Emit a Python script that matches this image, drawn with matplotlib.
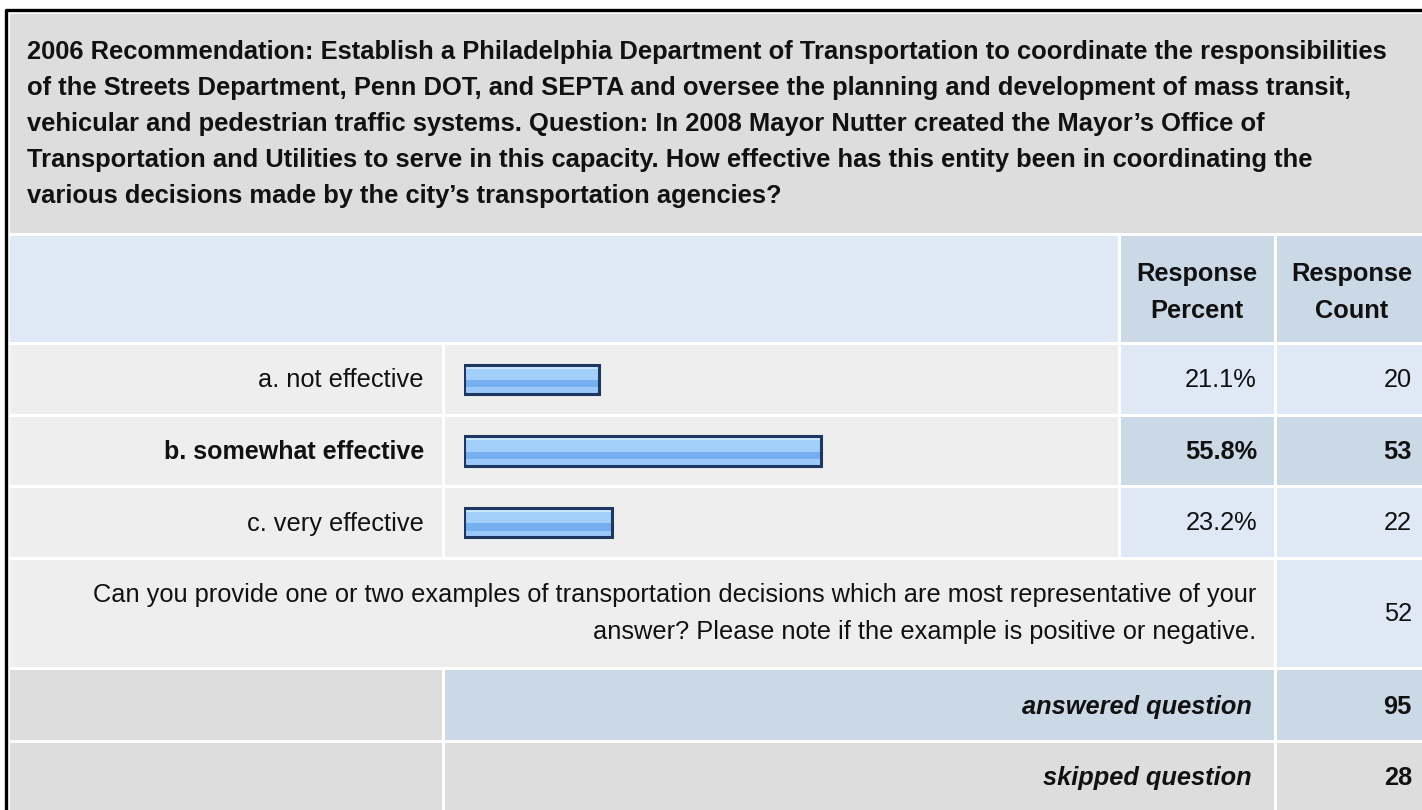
import matplotlib.pyplot as plt
from matplotlib.patches import Rectangle

plt.rcParams['font.family'] = ['Liberation Sans', 'DejaVu Sans']

title_lines = [
    "2006 Recommendation: Establish a Philadelphia Department of Transportation to coordinate the responsibilities",
    "of the Streets Department, Penn DOT, and SEPTA and oversee the planning and development of mass transit,",
    "vehicular and pedestrian traffic systems. Question: In 2008 Mayor Nutter created the Mayor\u2019s Office of",
    "Transportation and Utilities to serve in this capacity. How effective has this entity been in coordinating the",
    "various decisions made by the city\u2019s transportation agencies?",
]
header_percent = ["Response", "Percent"]
header_count = ["Response", "Count"]
choice_labels = ["a. not effective", "b. somewhat effective", "c. very effective"]
response_percent = [21.1, 55.8, 23.2]
response_count = [20, 53, 22]
top_choice = 1
comment_lines = [
    "Can you provide one or two examples of transportation decisions which are most representative of your",
    "answer? Please note if the example is positive or negative.",
]
comment_count = 52
answered_count = 95
skipped_count = 28

W, H = 1422, 810
GRAY = "#dddddd"
LIGHT = "#eeeeee"
BLUE = "#dfe8f5"
BLUE2 = "#cbd8e6"
TXT = "#111111"
FS = 18.3
FSB = 18.3

# column edges (px)
c_lab = (9.5, 441.5)
c_bar = (444.5, 1117.5)
c_pct = (1120.5, 1273.5)
c_cnt = (1276.5, 1430)
# row edges (px)
r_title = (14, 233)
r_head = (235.5, 342)
r_choice = [(345, 413.5), (416.5, 485), (488, 557)]
r_comment = (560, 667)
r_answer = (670, 739.5)
r_skip = (742.5, 815)

fig = plt.figure(figsize=(W / 100, H / 100), dpi=100)
ax = fig.add_axes([0, 0, 1, 1])
ax.set_xlim(0, W)
ax.set_ylim(H, 0)
ax.axis("off")


def cell(x0, x1, y0, y1, color):
    ax.add_patch(Rectangle((x0, y0), x1 - x0, y1 - y0, facecolor=color, edgecolor="none"))


# outer frame
ax.plot([5.5, 5.5, W + 5], [H + 5, 10, 10], color="black", lw=2.4, solid_capstyle="butt")

# title
cell(c_lab[0], c_cnt[1], *r_title, GRAY)
for i, line in enumerate(title_lines):
    ax.text(27, 52 + 36 * i, line, fontsize=18.4, fontweight="bold", color=TXT,
            ha="left", va="center")

# header
cell(c_lab[0], c_bar[1], *r_head, BLUE)
cell(*c_pct, *r_head, BLUE2)
cell(*c_cnt, *r_head, BLUE2)
for i in range(2):
    ax.text(1197, 274 + 37 * i, header_percent[i], fontsize=FSB, fontweight="bold",
            color=TXT, ha="center", va="center")
    ax.text(1352, 274 + 37 * i, header_count[i], fontsize=FSB, fontweight="bold",
            color=TXT, ha="center", va="center")

# choice rows
for i, (lab, pct, cnt) in enumerate(zip(choice_labels, response_percent, response_count)):
    y0, y1 = r_choice[i]
    ym = (y0 + y1) / 2 + 1
    shade = BLUE2 if i == top_choice else BLUE
    weight = "bold" if i == top_choice else "normal"
    cell(*c_lab, y0, y1, LIGHT)
    cell(*c_bar, y0, y1, LIGHT)
    cell(*c_pct, y0, y1, shade)
    cell(*c_cnt, y0, y1, shade)
    ax.text(424, ym, lab, fontsize=FS if i != top_choice else 18.0, fontweight=weight,
            color=TXT, ha="right", va="center")
    ax.text(1257, ym, f"{pct:.1f}%", fontsize=FS, fontweight=weight, color=TXT,
            ha="right", va="center")
    ax.text(1412, ym, f"{cnt}", fontsize=FS, fontweight=weight, color=TXT,
            ha="right", va="center")

# comment row
cell(c_lab[0], c_pct[1], *r_comment, LIGHT)
cell(*c_cnt, *r_comment, BLUE)
for i, line in enumerate(comment_lines):
    ax.text(1256, 595 + 37 * i, line, fontsize=FS, color=TXT, ha="right", va="center")
ax.text(1412, 614, f"{comment_count}", fontsize=FS, color=TXT, ha="right", va="center")

# answered / skipped
for (y0, y1), lab, val, mid in [(r_answer, "answered question", answered_count, BLUE2),
                                (r_skip, "skipped question", skipped_count, GRAY)]:
    cell(*c_lab, y0, y1, GRAY)
    cell(c_bar[0], c_pct[1], y0, y1, mid)
    cell(*c_cnt, y0, y1, mid)
    ym = (y0 + y1) / 2 + 2 if y1 < 800 else 778
    ax.text(1252, ym, lab, fontsize=FSB, fontweight="bold", style="italic", color=TXT,
            ha="right", va="center")
    ax.text(1412, ym, f"{val}", fontsize=FSB, fontweight="bold", color=TXT,
            ha="right", va="center")

# bars
bx0, bw = 464, 640
by0, by1 = 343.5, 558.5
bax = fig.add_axes([bx0 / W, (H - by1) / H, bw / W, (by1 - by0) / H])
bax.set_xlim(0, 100)
bax.set_ylim(2.5, -0.5)
bax.axis("off")
pos = list(range(len(response_percent)))
bh = 0.405
bands = [(0.0, 0.13, "#cde5fd"), (0.13, 0.52, "#a2cefa"), (0.52, 0.78, "#76afef"),
         (0.78, 1.0, "#9ccaf8")]
for t, b, col in bands:
    centers = [p - bh / 2 + bh * (t + b) / 2 for p in pos]
    bax.barh(centers, response_percent, height=bh * (b - t), color=col, linewidth=0)
bax.barh(pos, response_percent, height=bh, fill=False, edgecolor="#1d3760", linewidth=2.2)

fig.savefig("out.png", dpi=100)
